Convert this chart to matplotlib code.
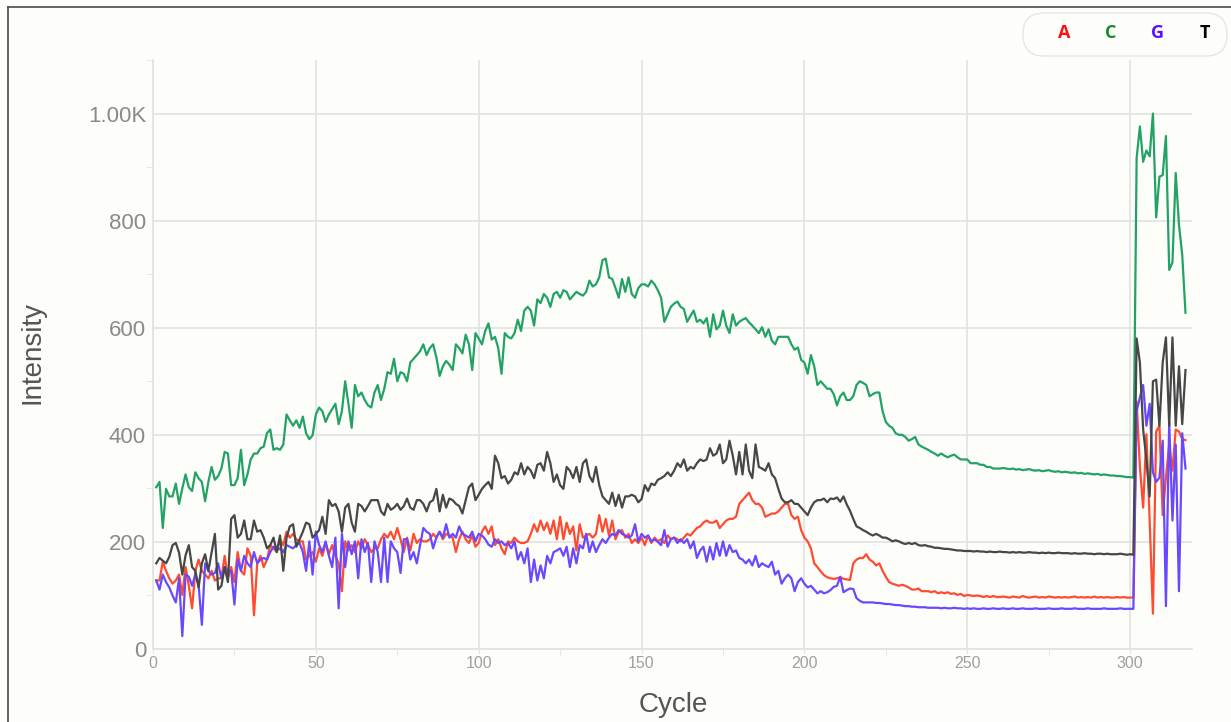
import matplotlib
matplotlib.use("Agg")
import matplotlib.pyplot as plt
from matplotlib.patches import FancyBboxPatch
from matplotlib.lines import Line2D
from matplotlib.transforms import IdentityTransform
from matplotlib.ticker import MultipleLocator, FuncFormatter

plt.rcParams['font.family'] = ['Liberation Sans', 'DejaVu Sans']

cycles = list(range(1, 318))

intensity_c = [
    302, 312, 226, 299, 285, 285, 309, 271, 300, 326,
    302, 295, 330, 319, 312, 276, 312, 340, 316, 323,
    337, 368, 365, 306, 306, 319, 372, 306, 326, 354,
    365, 365, 375, 378, 403, 410, 372, 375, 372, 382,
    438, 427, 417, 427, 413, 434, 403, 392, 399, 438,
    451, 444, 424, 438, 448, 458, 420, 444, 500, 458,
    413, 493, 472, 479, 465, 455, 451, 479, 493, 465,
    486, 517, 514, 542, 500, 517, 514, 500, 535, 542,
    549, 556, 569, 549, 562, 569, 545, 510, 528, 538,
    531, 521, 569, 562, 552, 587, 569, 521, 590, 580,
    569, 594, 608, 578, 583, 562, 514, 590, 583, 580,
    590, 615, 594, 632, 639, 632, 604, 653, 646, 663,
    656, 639, 663, 667, 656, 670, 667, 653, 660, 667,
    663, 660, 667, 688, 677, 681, 694, 726, 729, 694,
    691, 674, 656, 691, 667, 694, 663, 656, 674, 681,
    681, 677, 688, 681, 670, 656, 611, 625, 639, 645,
    649, 639, 635, 611, 622, 632, 611, 615, 608, 618,
    583, 625, 597, 604, 632, 604, 590, 625, 604, 611,
    615, 618, 610, 604, 597, 590, 601, 583, 597, 576,
    569, 583, 583, 583, 583, 569, 559, 563, 540, 535,
    514, 549, 528, 493, 500, 493, 486, 486, 476, 455,
    472, 479, 465, 465, 472, 493, 500, 497, 493, 472,
    476, 479, 479, 444, 424, 417, 413, 403, 400, 400,
    396, 389, 392, 396, 382, 378, 375, 372, 368, 365,
    361, 365, 361, 358, 361, 363, 358, 354, 354, 354,
    347, 347, 347, 344, 344, 340, 340, 337, 337, 337,
    338, 337, 336, 337, 335, 336, 334, 335, 336, 334,
    333, 334, 332, 333, 334, 332, 331, 332, 330, 331,
    330, 329, 330, 328, 329, 327, 328, 327, 326, 327,
    325, 326, 325, 324, 324, 323, 323, 322, 321, 321, 320,
    917, 976, 910, 931, 920, 1000, 806, 882, 885, 958,
    708, 722, 889, 792, 736, 628,
]

intensity_t = [
    160, 170, 165, 160, 172, 194, 198, 180, 139, 175,
    194, 153, 146, 115, 160, 177, 146, 181, 215, 111,
    118, 153, 125, 243, 250, 208, 215, 240, 205, 205,
    240, 219, 222, 208, 188, 194, 208, 181, 212, 146,
    208, 229, 233, 191, 205, 219, 236, 233, 208, 215,
    222, 247, 215, 278, 267, 271, 257, 219, 264, 271,
    236, 219, 271, 267, 257, 267, 278, 278, 278, 257,
    250, 271, 260, 264, 271, 260, 267, 281, 264, 260,
    278, 278, 271, 257, 274, 278, 299, 257, 288, 264,
    281, 278, 271, 267, 253, 278, 302, 309, 278, 288,
    299, 306, 312, 299, 361, 347, 319, 323, 309, 316,
    330, 326, 347, 326, 340, 333, 319, 344, 347, 333,
    368, 347, 312, 326, 306, 299, 340, 333, 319, 340,
    312, 347, 354, 323, 312, 340, 306, 285, 278, 271,
    292, 267, 288, 264, 285, 285, 288, 285, 274, 280,
    306, 295, 309, 306, 316, 319, 323, 330, 323, 333,
    347, 340, 354, 333, 340, 337, 347, 354, 351, 354,
    375, 361, 365, 382, 347, 354, 389, 361, 326, 368,
    326, 382, 333, 319, 382, 340, 337, 333, 347, 326,
    319, 299, 281, 274, 274, 278, 271, 271, 264, 257,
    250, 264, 274, 278, 278, 281, 274, 281, 280, 283,
    275, 285, 270, 258, 243, 229, 226, 222, 219, 215,
    212, 215, 212, 208, 208, 205, 201, 203, 201, 198,
    196, 198, 196, 198, 194, 193, 194, 192, 191, 189,
    189, 188, 187, 187, 186, 185, 184, 184, 183, 183,
    183, 182, 183, 182, 182, 181, 182, 181, 181, 182,
    181, 181, 180, 181, 180, 181, 180, 180, 181, 180,
    180, 179, 180, 179, 180, 179, 179, 180, 179, 179,
    179, 178, 179, 178, 178, 179, 178, 178, 177, 178,
    178, 177, 178, 177, 177, 177, 178, 177, 176, 177, 176,
    580, 535, 410, 354, 285, 500, 503, 417, 535, 582,
    417, 582, 417, 528, 420, 521,
]

intensity_a = [
    128, 128, 163, 146, 132, 122, 128, 139, 101, 153,
    118, 76, 146, 167, 146, 139, 132, 146, 128, 132,
    132, 174, 132, 153, 125, 181, 146, 139, 188, 174,
    63, 160, 174, 153, 167, 194, 188, 181, 205, 194,
    219, 208, 215, 205, 201, 201, 167, 174, 181, 163,
    188, 174, 198, 177, 194, 174, 160, 108, 201, 184,
    194, 181, 201, 188, 205, 194, 181, 188, 188, 205,
    215, 208, 219, 205, 226, 205, 181, 208, 184, 215,
    198, 205, 201, 201, 205, 215, 208, 219, 205, 215,
    212, 208, 181, 205, 219, 205, 198, 212, 191, 198,
    219, 229, 215, 229, 194, 205, 188, 177, 201, 198,
    208, 201, 198, 198, 201, 215, 233, 219, 240, 222,
    236, 215, 240, 205, 247, 205, 236, 215, 229, 184,
    233, 208, 212, 215, 208, 215, 250, 219, 243, 212,
    240, 205, 219, 222, 208, 215, 198, 205, 198, 208,
    194, 212, 198, 208, 201, 205, 198, 212, 205, 208,
    205, 201, 208, 215, 212, 219, 226, 229, 236, 240,
    236, 236, 240, 226, 233, 240, 243, 243, 247, 271,
    278, 285, 292, 278, 271, 271, 264, 247, 250, 253,
    253, 257, 264, 271, 271, 250, 243, 247, 222, 208,
    201, 188, 160, 153, 145, 138, 134, 132, 131, 132,
    134, 131, 130, 129, 160, 167, 170, 170, 177, 167,
    163, 156, 160, 146, 135, 125, 122, 120, 118, 120,
    118, 115, 111, 111, 113, 108, 108, 108, 106, 108,
    104, 106, 104, 106, 103, 104, 101, 103, 99, 101,
    100, 99, 100, 99, 97, 99, 97, 99, 97, 97,
    98, 97, 96, 98, 97, 96, 99, 97, 96, 97,
    98, 96, 97, 96, 98, 97, 96, 97, 96, 97,
    96, 97, 98, 96, 97, 96, 97, 96, 98, 96,
    97, 96, 97, 96, 96, 97, 96, 97, 96, 96, 96,
    462, 340, 264, 401, 240, 66, 406, 417, 250, 320,
    382, 333, 410, 406, 392, 390,
]

intensity_g = [
    128, 111, 139, 125, 115, 100, 87, 132, 24, 139,
    135, 118, 139, 120, 45, 160, 146, 139, 142, 160,
    132, 153, 146, 146, 83, 167, 146, 174, 160, 153,
    181, 160, 167, 170, 167, 181, 191, 184, 188, 181,
    194, 191, 188, 194, 198, 181, 146, 201, 139, 219,
    194, 181, 201, 174, 153, 208, 76, 215, 153, 201,
    177, 201, 132, 205, 181, 198, 125, 201, 181, 125,
    208, 125, 201, 188, 181, 142, 205, 205, 167, 181,
    160, 194, 226, 219, 215, 188, 208, 219, 208, 233,
    208, 215, 208, 229, 215, 212, 208, 219, 201, 215,
    212, 205, 195, 191, 205, 198, 201, 194, 198, 188,
    201, 167, 181, 160, 188, 125, 167, 128, 156, 132,
    174, 160, 181, 184, 188, 174, 191, 153, 188, 160,
    194, 188, 215, 181, 201, 181, 194, 205, 198, 208,
    215, 212, 222, 215, 212, 208, 212, 233, 201, 215,
    208, 212, 201, 205, 200, 194, 222, 191, 205, 208,
    198, 205, 198, 205, 188, 201, 170, 184, 191, 163,
    191, 167, 198, 174, 201, 174, 194, 181, 184, 170,
    167, 160, 167, 156, 174, 153, 160, 156, 153, 163,
    139, 146, 122, 132, 139, 132, 108, 125, 132, 122,
    115, 118, 111, 104, 108, 104, 106, 110, 116, 118,
    135, 106, 110, 113, 112, 95, 90, 87, 87, 87,
    87, 86, 86, 85, 84, 84, 83, 82, 82, 81,
    80, 80, 79, 79, 78, 78, 78, 77, 77, 77,
    77, 76, 77, 76, 76, 77, 76, 76, 75, 76,
    75, 76, 75, 75, 76, 75, 75, 76, 75, 75,
    76, 75, 75, 76, 75, 75, 76, 75, 75, 75,
    76, 75, 75, 75, 76, 75, 75, 75, 76, 75,
    75, 75, 76, 75, 75, 75, 76, 75, 75, 75,
    75, 76, 75, 75, 75, 75, 76, 75, 75, 75, 75,
    444, 470, 493, 417, 458, 330, 312, 320, 389, 80,
    424, 240, 382, 108, 403, 337,
]

bases = ['A', 'C', 'G', 'T']
line_colors = {'A': '#ff4b30', 'C': '#22a264', 'G': '#6a48ff', 'T': '#474747'}
legend_colors = {'A': '#ff1010', 'C': '#158a30', 'G': '#5a10ff', 'T': '#000000'}
series = {'A': intensity_a, 'C': intensity_c, 'G': intensity_g, 'T': intensity_t}

x_ticks = [0, 50, 100, 150, 200, 250, 300]
y_ticks = [0, 200, 400, 600, 800, 1000]

W, H = 1231, 722
BG = '#fdfdfa'
GRID = '#e2e2e2'

fig = plt.figure(figsize=(W / 100, H / 100), dpi=100, facecolor=BG)
ax = fig.add_axes([153 / W, (H - 649) / H, (1192 - 153) / W, (649 - 60) / H])
ax.set_facecolor(BG)

for b in bases:
    ax.plot(cycles, series[b], color=line_colors[b], lw=1.6,
            solid_joinstyle='round', zorder=3)

ax.set_xlim(0, 319)
ax.set_ylim(0, 1100)
ax.set_xticks(x_ticks)
ax.set_yticks(y_ticks)
ax.xaxis.set_minor_locator(MultipleLocator(25))
ax.yaxis.set_minor_locator(MultipleLocator(100))
ax.yaxis.set_major_formatter(FuncFormatter(
    lambda v, p: '1.00K' if v >= 1000 else f'{int(v)}'))

ax.grid(which='major', color=GRID, lw=1.2, zorder=0)
for s in ['top', 'right']:
    ax.spines[s].set_visible(False)
for s in ['left', 'bottom']:
    ax.spines[s].set_color(GRID)
    ax.spines[s].set_linewidth(1.2)

ax.tick_params(axis='x', which='major', length=3, color=GRID, pad=2,
               labelsize=11.5, labelcolor='#a0a0a0')
ax.tick_params(axis='x', which='minor', length=4, color=GRID)
ax.tick_params(axis='y', which='major', length=0, pad=5,
               labelsize=16, labelcolor='#8a8a8a')
ax.tick_params(axis='y', which='minor', length=5, color=GRID)

fig.text(33 / W, 1 - 353 / H, 'Intensity', rotation=90, ha='center',
         va='center', fontsize=20, color='#555555')
fig.text(673 / W, 1 - 705 / H, 'Cycle', ha='center', va='center',
         fontsize=20, color='#555555')

# outer frame (left and top edges)
fig.add_artist(Line2D([7.5 / W, 7.5 / W], [0, 1 - 6.5 / H],
                      transform=fig.transFigure, color='#4a4a4a', lw=1.2))
fig.add_artist(Line2D([7.5 / W, 1], [1 - 6.5 / H, 1 - 6.5 / H],
                      transform=fig.transFigure, color='#4a4a4a', lw=1.2))

# legend pill
pill = FancyBboxPatch((1023, H - 56), 204, 43,
                      boxstyle='round,pad=0,rounding_size=21',
                      transform=IdentityTransform(), fc=BG, ec='#e6e6e6', lw=1)
fig.add_artist(pill)
legend_x = [1064, 1111, 1158, 1205]
for b, lx in zip(bases, legend_x):
    fig.text(lx, H - 33, b, transform=IdentityTransform(), ha='center',
             va='center', fontsize=13, fontweight='bold',
             color=legend_colors[b], family=['Open Sans', 'DejaVu Sans'])

fig.savefig('out.png', dpi=100, facecolor=BG)
